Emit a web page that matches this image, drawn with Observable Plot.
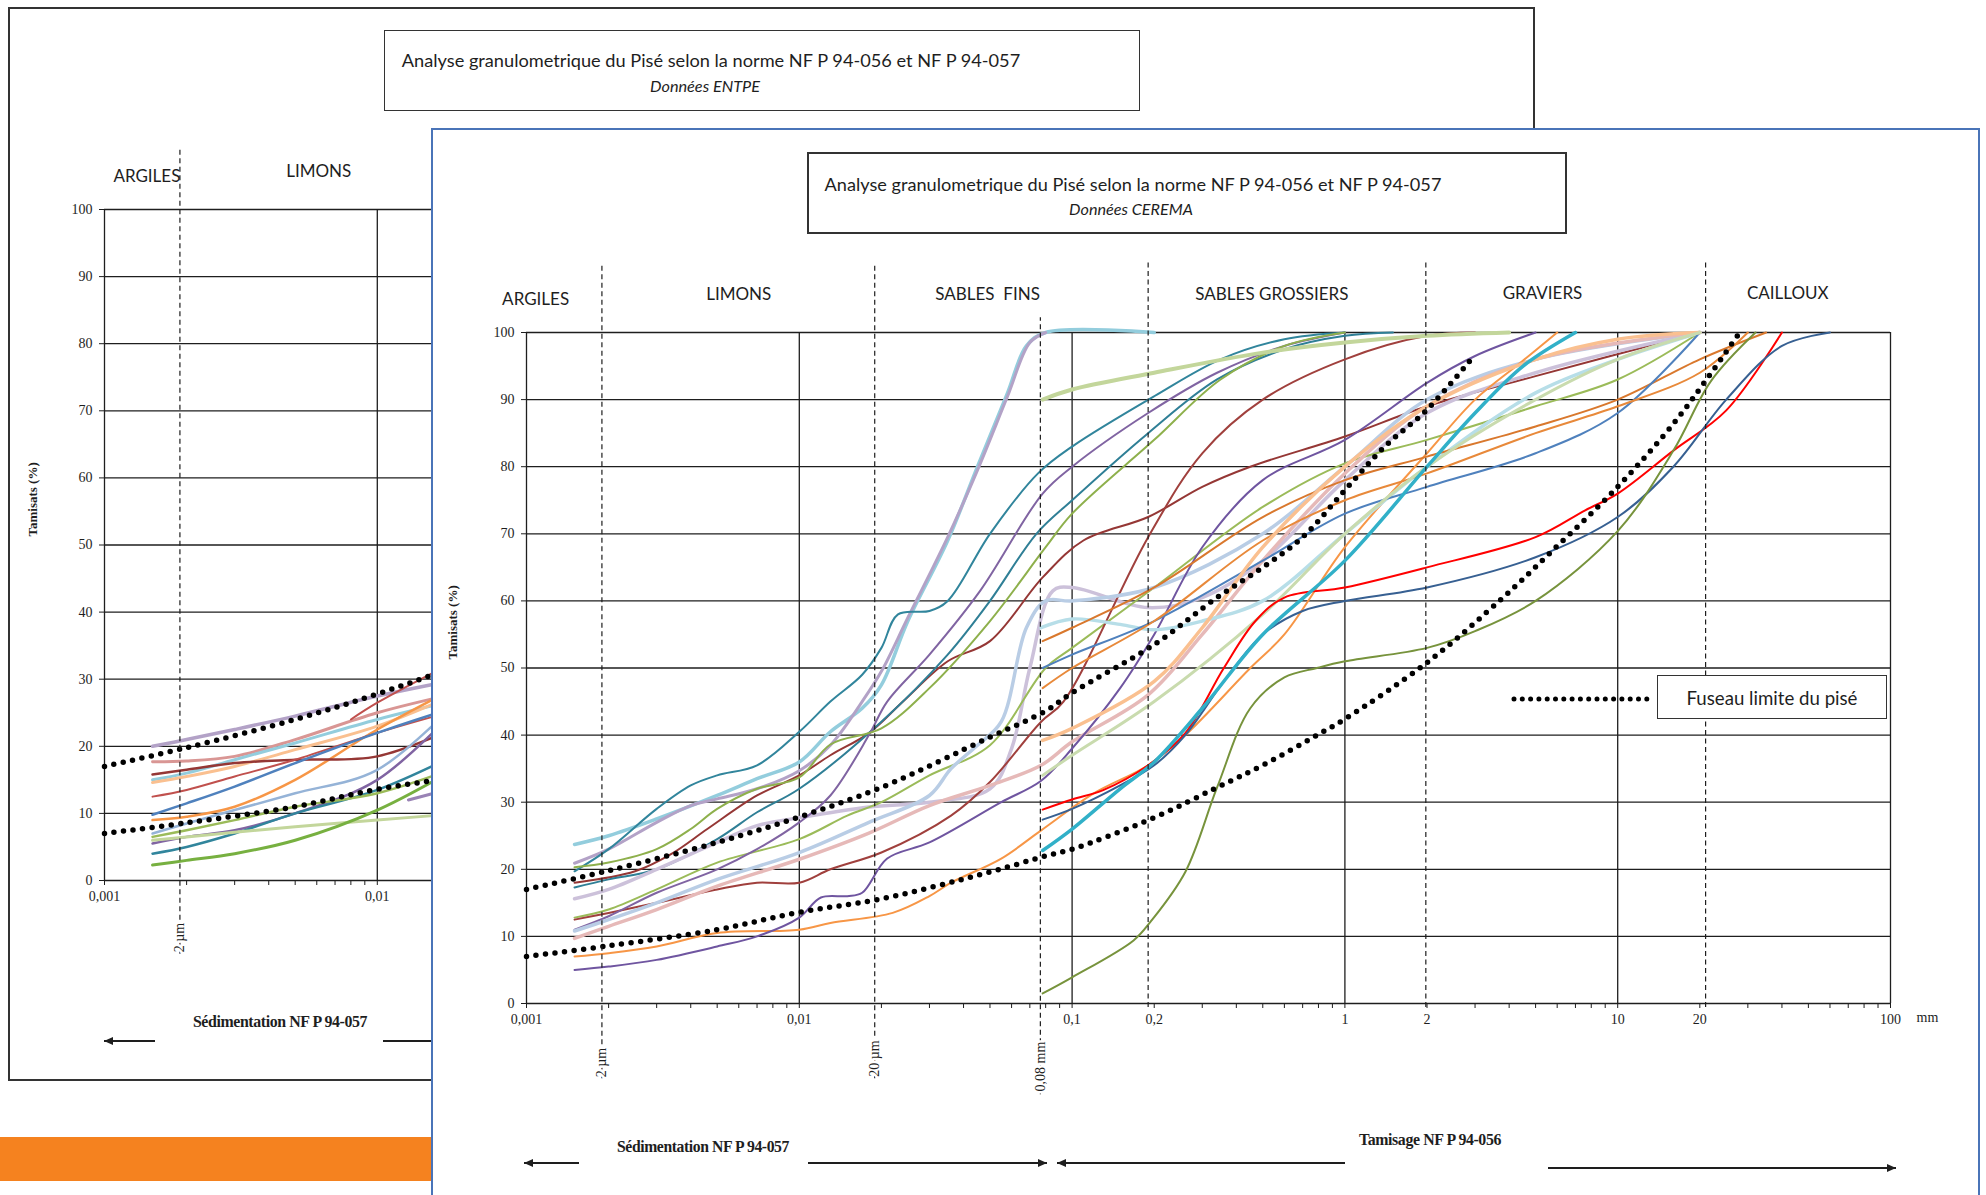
<!DOCTYPE html>
<html><head><meta charset="utf-8">
<script src="https://cdn.jsdelivr.net/npm/d3@7"></script>
<script src="https://cdn.jsdelivr.net/npm/@observablehq/plot@0.6"></script>
<style>
html,body{margin:0;padding:0;background:#fff;}
body{width:1986px;height:1195px;overflow:hidden;position:relative;}
.frame{position:absolute;box-sizing:border-box;background:#fff;}
.t{position:absolute;white-space:nowrap;transform:translate(-50%,-50%);color:#1e1e1e;line-height:1;}
.sans{font-family:Lato,"Open Sans",sans-serif;}
.serif{font-family:"Liberation Serif","DejaVu Serif",serif;}
</style></head><body>
<script>
// ---------------- DATA ----------------
const yTicks = [0,10,20,30,40,50,60,70,80,90,100];
const xGridValues = [0.001,0.01,0.1,1,10,100];
const xLabelValues = [0.001,0.01,0.1,0.2,1,2,5,10,20,50,100];
const xLabelTexts = ["0,001","0,01","0,1","0,2","1","2","5","10","20","50","100"];
// class boundaries (2 µm, 20 µm, 0,08 mm, 0,2 mm, 2 mm, 20 mm) as drawn in the figure
const boundaryValues = [0.00189,0.0189,0.0765,0.19,1.98,21];
const boundaryTop = [110.4,110.4,102.2,110.4,110.4,110.4];
const boundaryBottom = [-11.2,-11.2,-13.6,-0.6,-0.6,-0.6];
const boundaryLabels = ["2 µm","20 µm","0,08 mm"];
const boundaryLabelY = [-8.8,-8.2,-9.4];
const zoneNames = ["ARGILES","LIMONS","SABLES  FINS","SABLES GROSSIERS","GRAVIERS","CAILLOUX"];
const zoneX = [0.00108,0.006,0.049,0.54,5.3,42];
const zoneY = [104.9,105.7,105.7,105.7,105.8,105.8];
const backZoneNames = ["ARGILES","LIMONS"];
const backZoneX = [0.00143,0.0061];
const backZoneY = [104.9,105.7];

// Fuseau limite du pisé (dotted envelope)
const limitUpper = [[0.001,17],[0.002,19.8],[0.005,24],[0.01,27.8],[0.02,32.2],[0.05,39.7],[0.08,43.6],[0.1,46.3],[0.2,53.5],[0.34,60.5],[0.5,65],[0.7,69.5],[1,76.5],[1.4,83],[2,88.5],[2.9,96]];
const limitLower = [[0.001,7],[0.002,8.6],[0.005,11],[0.01,13.6],[0.02,15.6],[0.05,19.6],[0.08,22],[0.1,23],[0.2,27.7],[0.34,32.2],[0.5,35.5],[0.79,40],[1,42.4],[2,50.8],[3.8,60.5],[5.7,67.3],[10,77],[16,86.4],[21,92.8],[28,100]];

// CEREMA curves (size mm, % passing)
const c01 = [[0.0015,23.7],[0.002,25],[0.003,27.5],[0.005,31],[0.007,33.5],[0.01,36],[0.013,40.5],[0.017,44],[0.02,47.5],[0.025,57],[0.035,69],[0.045,80],[0.058,91],[0.068,98],[0.08,100],[0.2,100]];
const c02 = [[0.0015,20.9],[0.002,23],[0.003,27],[0.004,29.5],[0.005,30.5],[0.007,32],[0.01,34.7],[0.013,38.5],[0.017,45],[0.02,49.5],[0.025,57.5],[0.035,69.5],[0.045,79.5],[0.058,90.5],[0.07,98.5],[0.08,100]];
const c03 = [[0.0015,19.7],[0.002,23],[0.003,29],[0.004,32.5],[0.005,34],[0.007,35.5],[0.01,40.5],[0.013,45],[0.017,49],[0.02,53],[0.023,58],[0.03,58.5],[0.035,60],[0.05,70],[0.075,79],[0.1,83],[0.2,90.5],[0.35,96],[0.6,99],[1,100]];
const c04 = [[0.0015,18],[0.0025,19.7],[0.0034,22.3],[0.0046,26],[0.007,31],[0.01,34],[0.013,37],[0.018,40.3],[0.024,45],[0.035,51],[0.05,54],[0.078,63.5],[0.11,69],[0.19,72.5],[0.3,77],[0.45,80],[1,84.5],[2,89],[5,93.5],[20,100]];
const c05 = [[0.0015,17.3],[0.002,18.5],[0.003,20],[0.005,24.5],[0.007,28.5],[0.01,32],[0.02,42],[0.035,52],[0.05,60],[0.074,70],[0.1,75],[0.19,85],[0.34,93],[0.6,97.5],[1,99.5],[1.5,100]];
const c06 = [[0.0015,15.6],[0.002,17],[0.003,20],[0.005,24],[0.007,26.5],[0.01,27.7],[0.018,29.3],[0.03,30],[0.05,32],[0.06,38],[0.07,50],[0.085,61.5],[0.1,62],[0.19,59],[0.3,60.5],[0.5,66],[1,78],[2,88],[5,94],[20,100]];
const c07 = [[0.0015,12.8],[0.002,14],[0.003,17],[0.005,21],[0.01,24.5],[0.015,28],[0.02,30],[0.03,34],[0.05,38.5],[0.08,50],[0.1,53],[0.2,62],[0.5,74],[1,80.5],[2,84],[5,89],[10,93],[20,100]];
const c08 = [[0.0015,12.5],[0.002,13.5],[0.003,15],[0.005,17],[0.007,18],[0.01,18],[0.013,20],[0.02,22.5],[0.036,28],[0.05,33],[0.077,42],[0.093,45],[0.19,69.5],[0.3,82],[0.5,90],[1,96],[2,99.5],[3,100]];
const c09 = [[0.0015,11],[0.002,13],[0.003,16.5],[0.005,20],[0.007,23],[0.01,27],[0.013,31],[0.018,40],[0.021,45],[0.03,52],[0.046,61.5],[0.078,76],[0.1,80],[0.19,88],[0.34,94],[0.6,98],[1,100]];
const c10 = [[0.0015,10.8],[0.002,12.5],[0.003,15],[0.005,18.5],[0.01,22.5],[0.018,27],[0.03,31],[0.036,35],[0.045,38.5],[0.055,42],[0.068,56],[0.08,60],[0.1,60],[0.2,62],[0.5,70],[1,80],[2,90],[5,96],[20,100]];
const c11 = [[0.0015,9.7],[0.002,11.5],[0.003,14],[0.005,17.5],[0.01,21.5],[0.018,25.4],[0.03,29.5],[0.05,32.5],[0.077,35.5],[0.1,39],[0.19,46],[0.3,55],[0.5,66],[1,79],[2,89],[5,96],[20,100]];
const c12 = [[0.0015,7],[0.002,7.5],[0.003,8.5],[0.005,10.5],[0.01,11],[0.013,12],[0.022,13.5],[0.03,16],[0.036,18],[0.055,21.6],[0.077,25.8],[0.12,31.3],[0.19,35.5],[0.26,40],[0.45,50],[0.6,55],[1,68],[2,82],[3,90],[4.4,95.5],[6,100]];
const c13 = [[0.0015,5],[0.002,5.5],[0.003,6.5],[0.005,8.5],[0.007,10],[0.01,12.8],[0.012,15.8],[0.015,16],[0.017,16.5],[0.021,21.6],[0.03,24],[0.055,30],[0.077,33.2],[0.1,38],[0.15,47],[0.2,55],[0.3,68],[0.5,78],[1,84],[2,92.5],[3,96.5],[5,100]];
const c14 = [[0.0015,20.3],[0.002,21],[0.003,23],[0.004,26],[0.005,29],[0.007,32],[0.01,33.7],[0.013,38.6],[0.02,41],[0.03,47],[0.05,57],[0.08,68],[0.1,73],[0.2,84],[0.35,93],[0.6,98],[1,100]];
const c15 = [[0.078,90],[0.1,91.5],[0.2,94],[0.5,97],[1,98.5],[2,99.5],[4,100]];
const c16 = [[0.077,56],[0.1,57.3],[0.15,56.5],[0.2,55.7],[0.3,57],[0.5,60],[1,70],[2,80],[5,91],[10,96],[20,100]];
const c17 = [[0.078,54],[0.1,56],[0.2,62],[0.5,72.5],[1,78],[2,81.5],[5,86],[10,90],[20,96],[35,100]];
const c18 = [[0.078,50],[0.1,52],[0.2,57],[0.5,66],[1,73],[2,77],[5,82],[10,88],[20,100]];
const c19 = [[0.078,47],[0.1,50],[0.2,57],[0.5,69],[1,75],[2,79],[5,85],[10,89],[20,94],[30,100]];
const c20 = [[0.078,39.2],[0.1,41],[0.2,48],[0.3,56],[0.5,68],[1,80],[2,89],[5,96],[10,99],[20,100]];
const c21 = [[0.078,34],[0.1,37],[0.2,45],[0.5,58],[1,70],[2,80],[5,90],[10,96],[20,100]];
const c22 = [[0.078,28.9],[0.1,30.4],[0.13,31.8],[0.19,35.5],[0.26,40.3],[0.36,50],[0.47,57],[0.6,60.5],[1,62],[2,65],[5,69.5],[7.6,73.5],[10,76],[16,82.4],[25,88.4],[40,100]];
const c23 = [[0.078,27.4],[0.1,29],[0.15,32.5],[0.2,35.5],[0.26,40],[0.36,48],[0.5,55],[0.7,58.5],[1,60],[2,62],[5,66.5],[10,72.5],[16,80],[25,90],[40,98],[60,100]];
const c24 = [[0.078,22.8],[0.1,26],[0.15,32],[0.2,36],[0.3,44],[0.5,55],[1,66],[2,80],[3,88],[4.5,95],[7,100]];
const c25 = [[0.078,1.5],[0.1,3.9],[0.168,9.4],[0.194,12.2],[0.26,19.6],[0.34,32.2],[0.45,44],[0.6,48.6],[0.79,50],[1,51],[2,53],[3,55.5],[5,60],[10,70.4],[16,82.4],[22,92.8],[32,100]];
const ceremaCurves = [c01,c02,c03,c04,c05,c06,c07,c08,c09,c10,c11,c12,c13,c14,c15,c16,c17,c18,c19,c20,c21,c22,c23,c24,c25];
const ceremaColors = ["#93CDDD","#B3A2C7","#31859C","#953735","#2F7F96","#CCC1DA","#9BBB59","#A0403D","#8064A2","#B9CDE5","#E6B9B8","#F79646","#6F55A0","#8EB04C","#C3D69B","#B7DEE8","#D9782D","#4F81BD","#E8893A","#FAC090","#C9DBAE","#FF0000","#376092","#31B0C8","#77933C"];
const ceremaWidths = [3.5,3,2,2,2,3.5,2,2,2,3.5,3.5,2,2,2,4,3.5,2,2,2,3.5,3,2,2,3.5,2];

// ENTPE curves (back chart, only the fine part is visible)
const e01 = [[0.0015,20],[0.002,21],[0.003,22.5],[0.005,24.5],[0.01,27.5],[0.02,30]];
const e02 = [[0.0015,17.7],[0.002,17.8],[0.003,18.5],[0.005,21],[0.01,25],[0.02,28]];
const e03 = [[0.0015,15],[0.002,16],[0.003,18],[0.005,20.5],[0.01,24],[0.02,27]];
const e04 = [[0.0015,14.6],[0.002,15.5],[0.003,17],[0.005,19.5],[0.01,23],[0.02,28]];
const e05 = [[0.0015,9],[0.002,9.5],[0.003,11],[0.005,15],[0.01,22.5],[0.02,29]];
const e06 = [[0.0015,15.8],[0.002,16.5],[0.003,17.5],[0.005,18],[0.01,18.5],[0.02,23]];
const e07 = [[0.0015,12.5],[0.002,13.5],[0.003,15.5],[0.005,18],[0.01,22],[0.02,25.5]];
const e08 = [[0.0015,9.8],[0.002,11.5],[0.003,14],[0.005,17.5],[0.01,22],[0.02,26]];
const e09 = [[0.0015,7],[0.002,8.5],[0.003,10.5],[0.005,13],[0.01,16.5],[0.02,27]];
const e10 = [[0.0015,5.5],[0.002,6.5],[0.003,7.5],[0.005,10],[0.01,15],[0.02,26]];
const e11 = [[0.0015,4],[0.002,5],[0.003,7],[0.005,10],[0.01,13.5],[0.02,19]];
const e12 = [[0.0015,6],[0.002,6.5],[0.003,7.2],[0.005,8],[0.01,9],[0.02,10]];
const e13 = [[0.0015,2.3],[0.002,3],[0.003,4],[0.005,6],[0.01,10.5],[0.02,17]];
const e14 = [[0.0015,6.5],[0.002,7.5],[0.003,9],[0.005,11],[0.01,13],[0.02,17]];
const e15 = [[0.013,12],[0.02,14]];
const e16 = [[0.008,24],[0.01,26.5],[0.02,33]];
const entpeCurves = [e01,e02,e03,e04,e05,e06,e07,e08,e09,e10,e11,e12,e13,e14,e15,e16];
const entpeColors = ["#B3A2C7","#D99694","#93CDDD","#FAC090","#F79646","#953735","#C0504D","#4F81BD","#95B3D7","#8064A2","#31859C","#C3D69B","#77B040","#9BBB59","#9983B5","#C0504D"];
const entpeWidths = [3.5,3,3,3,2.5,2.5,2,2.5,2.5,2.5,2.5,3,3,2.5,3,2];

// ---------------- HELPERS ----------------
const minorTicks = [];
[0.001,0.01,0.1,1,10].forEach(d => { for (let m = 1; m <= 9; m++) minorTicks.push(+(d*m).toPrecision(6)); });
minorTicks.push(100);
const fmtX = d => { const i = xLabelValues.findIndex(v => Math.abs(v/d - 1) < 1e-6); return i < 0 ? "" : xLabelTexts[i]; };
const ink = "#1e1e1e";
const serif = "'Liberation Serif','DejaVu Serif',serif";
const sans = "Lato,'Open Sans',sans-serif";

function div(cls, style, text) {
  const e = document.createElement("div");
  e.className = cls; Object.assign(e.style, style);
  if (text) e.textContent = text;
  document.body.appendChild(e); return e;
}
function fit(e, target) {
  const w = e.getBoundingClientRect().width;
  const fs = parseFloat(getComputedStyle(e).fontSize);
  e.style.fontSize = (fs * target / w).toFixed(2) + "px";
}
function overlay() {
  const s = d3.create("svg").attr("width", 1986).attr("height", 1195)
    .style("position","absolute").style("left","0px").style("top","0px").style("pointer-events","none");
  document.body.appendChild(s.node()); return s;
}
function arrow(s, x1, y1, x2, y2, head) {
  s.append("line").attr("x1",x1).attr("y1",y1).attr("x2",x2).attr("y2",y2).attr("stroke",ink).attr("stroke-width",2);
  if (head) {
    const a = Math.atan2(y2-y1, x2-x1), L = 9, H = 4;
    const p = [[x2,y2],[x2 - L*Math.cos(a) + H*Math.sin(a), y2 - L*Math.sin(a) - H*Math.cos(a)],[x2 - L*Math.cos(a) - H*Math.sin(a), y2 - L*Math.sin(a) + H*Math.cos(a)]];
    s.append("polygon").attr("points", p.map(q => q.join(",")).join(" ")).attr("fill", ink);
  }
}
function curveMarks(curves, colors, widths) {
  return curves.map((pts, i) => Plot.line(pts, {x: d => d[0], y: d => d[1], stroke: colors[i], strokeWidth: widths[i], curve: "catmull-rom", strokeLinecap: "round", strokeLinejoin: "round"}));
}
function limitMarks() {
  return [limitUpper, limitLower].map(pts => Plot.line(pts, {x: d => d[0], y: d => d[1], stroke: "#000", strokeWidth: 5.5, strokeDasharray: "0,9.6", strokeLinecap: "round", curve: "catmull-rom"}));
}
function baseMarks() {
  return [
    Plot.ruleY(yTicks, {x1: 0.001, x2: 100, stroke: ink, strokeWidth: 1.3}),
    Plot.ruleX(xGridValues, {y1: 0, y2: 100, stroke: ink, strokeWidth: 1.3})
  ];
}
function place(svg, left, top) {
  svg.style.position = "absolute"; svg.style.left = left + "px"; svg.style.top = top + "px"; svg.style.maxWidth = "none";
  document.body.appendChild(svg);
}
const plotStyle = {background: "transparent", overflow: "visible", color: ink, fontFamily: serif, fontSize: "14px"};

// ---------------- BACK PANEL (ENTPE) ----------------
div("frame", {left: "8px", top: "7px", width: "1527px", height: "1074px", border: "2px solid #333"});
div("frame", {left: "384px", top: "30px", width: "756px", height: "81px", border: "1.5px solid #333"});
const bt = div("t sans", {left: "711px", top: "60px", fontSize: "17px"}, "Analyse  granulometrique  du Pisé selon la norme  NF P 94-056  et NF P 94-057");
fit(bt, 619);
const bs = div("t sans", {left: "705px", top: "86px", fontSize: "13px", fontStyle: "italic"}, "Données ENTPE");
fit(bs, 110);

const backPlot = Plot.plot({
  width: 1534, height: 1080,
  marginLeft: 104, marginRight: 66, marginTop: 209, marginBottom: 200,
  style: plotStyle,
  x: {type: "log", domain: [0.001, 100], ticks: minorTicks, tickSize: 5, tickPadding: 6, tickFormat: fmtX, label: null},
  y: {domain: [0, 100], ticks: yTicks, tickSize: 5, tickPadding: 7, label: null},
  marks: [
    ...baseMarks(),
    ...curveMarks(entpeCurves, entpeColors, entpeWidths),
    ...limitMarks(),
    Plot.ruleX([boundaryValues[0]], {y1: -11, y2: 109.2, stroke: ink, strokeWidth: 1.2, strokeDasharray: "5,3.5"}),
    Plot.text([boundaryLabels[0]], {x: boundaryValues[0], y: -8.5, rotate: -90, fontSize: 14, fill: ink, stroke: "white", strokeWidth: 5}),
    Plot.text(backZoneNames, {x: (d, i) => backZoneX[i], y: (d, i) => backZoneY[i], fontFamily: sans, fontSize: 17, fill: ink}),
    Plot.text(["Tamisats (%)"], {x: 0.000545, y: 56.8, rotate: -90, fontWeight: "bold", fontSize: 13, fill: ink})
  ]
});
place(backPlot, 0, 0);
const bo = overlay();
arrow(bo, 155, 1041, 104, 1041, true);
arrow(bo, 383, 1041, 440, 1041, false);
const bsed = div("t serif", {left: "280px", top: "1022px", fontSize: "14px", fontWeight: "bold", letterSpacing: "-0.4px"}, "Sédimentation NF P 94-057");
fit(bsed, 173);

// orange band
div("frame", {left: "0px", top: "1137px", width: "440px", height: "44px", background: "#F5821F"});

// ---------------- FRONT PANEL (CEREMA) ----------------
div("frame", {left: "431px", top: "128px", width: "1549px", height: "1100px", border: "2px solid #4A74B8"});
div("frame", {left: "807px", top: "152px", width: "760px", height: "82px", border: "2px solid #333"});
const ft = div("t sans", {left: "1133px", top: "184px", fontSize: "17px"}, "Analyse  granulometrique  du Pisé selon la norme  NF P 94-056  et NF P 94-057");
fit(ft, 617);
const fs2 = div("t sans", {left: "1131px", top: "209px", fontSize: "13px", fontStyle: "italic"}, "Données CEREMA");
fit(fs2, 124);

const frontPlot = Plot.plot({
  width: 1549, height: 1067,
  marginLeft: 95, marginRight: 90, marginTop: 204, marginBottom: 192,
  style: plotStyle,
  x: {type: "log", domain: [0.001, 100], ticks: minorTicks, tickSize: 5, tickPadding: 6, tickFormat: fmtX, label: null},
  y: {domain: [0, 100], ticks: yTicks, tickSize: 5, tickPadding: 7, label: null},
  marks: [
    ...baseMarks(),
    ...curveMarks(ceremaCurves, ceremaColors, ceremaWidths),
    ...limitMarks(),
    Plot.ruleX(boundaryValues, {y1: (d, i) => boundaryBottom[i], y2: (d, i) => boundaryTop[i], stroke: ink, strokeWidth: 1.2, strokeDasharray: "5,3.5"}),
    Plot.text(boundaryLabels, {x: (d, i) => boundaryValues[i], y: (d, i) => boundaryLabelY[i], rotate: -90, fontSize: 14, fill: ink, stroke: "white", strokeWidth: 5}),
    Plot.text(zoneNames, {x: (d, i) => zoneX[i], y: (d, i) => zoneY[i], fontFamily: sans, fontSize: 17, fill: ink}),
    Plot.text(["Tamisats (%)"], {x: 0.000536, y: 56.8, rotate: -90, fontWeight: "bold", fontSize: 13, fill: ink}),
    Plot.text(["mm"], {x: 100, y: 0, dx: 37, dy: 14, fontSize: 14, fill: ink})
  ]
});
place(frontPlot, 431, 128);

const fo = overlay();
arrow(fo, 579, 1163, 524, 1163, true);
arrow(fo, 808, 1163, 1047, 1163, true);
arrow(fo, 1345, 1163, 1057, 1163, true);
arrow(fo, 1548, 1168, 1896, 1168, true);
// legend dotted sample
fo.append("line").attr("x1", 1514).attr("x2", 1647).attr("y1", 699).attr("y2", 699)
  .attr("stroke", "#000").attr("stroke-width", 5).attr("stroke-dasharray", "0,8.3").attr("stroke-linecap", "round");
div("frame", {left: "1657px", top: "675px", width: "230px", height: "44px", border: "1.5px solid #333"});
const lg = div("t sans", {left: "1772px", top: "698px", fontSize: "16px"}, "Fuseau limite du pisé");
fit(lg, 171);
const fsed = div("t serif", {left: "703px", top: "1147px", fontSize: "14px", fontWeight: "bold", letterSpacing: "-0.4px"}, "Sédimentation NF P 94-057");
fit(fsed, 171);
const ftam = div("t serif", {left: "1430px", top: "1140px", fontSize: "14px", fontWeight: "bold", letterSpacing: "-0.4px"}, "Tamisage NF P 94-056");
fit(ftam, 141);
</script>
</body></html>
